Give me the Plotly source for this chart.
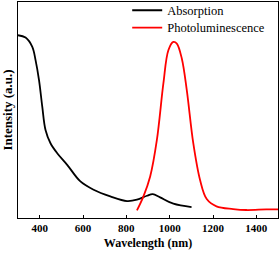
import plotly.graph_objects as go

abs_x = [300, 335, 366, 381, 397, 412, 427, 450, 481, 527, 588, 649, 726, 803, 849, 895, 922, 956, 1017, 1101]
abs_y = [550, 543, 515, 475, 415, 335, 265, 225, 195, 160, 110, 85, 65, 51, 55, 67, 72, 62, 43, 33]

pl_x = [849, 879, 910, 941, 971, 994, 1017, 1033, 1056, 1079, 1109, 1140, 1171, 1216, 1293, 1354, 1446, 1500]
pl_y = [23, 65, 125, 235, 405, 505, 530, 525, 480, 385, 225, 115, 57, 35, 27, 24, 26, 26]

tick_vals = [400, 600, 800, 1000, 1200, 1400]

fig = go.Figure()
fig.add_trace(go.Scatter(x=abs_x, y=abs_y, mode="lines", name="Absorption", legend="legend",
                         line=dict(color="black", width=1.8, shape="spline")))
fig.add_trace(go.Scatter(x=pl_x, y=pl_y, mode="lines", name="Photoluminescence", legend="legend2",
                         line=dict(color="red", width=1.8, shape="spline")))

font_serif = "Liberation Serif, Times New Roman, serif"
leg_common = dict(x=0.42, xanchor="left", yanchor="middle", bgcolor="rgba(0,0,0,0)",
                  font=dict(size=12.5, family=font_serif), itemwidth=30)
fig.update_layout(
    width=280, height=254,
    margin=dict(l=18, r=2, t=2, b=36, autoexpand=False),
    paper_bgcolor="white", plot_bgcolor="white",
    font=dict(family=font_serif, color="black"),
    showlegend=True,
    legend=dict(y=0.96, **leg_common),
    legend2=dict(y=0.88, **leg_common),
    xaxis=dict(range=[300, 1500], tickvals=tick_vals, ticks="inside", ticklen=3,
               tickcolor="black", showgrid=False, zeroline=False,
               showline=True, linecolor="black", linewidth=1, mirror=True,
               tickfont=dict(size=11, family=font_serif, weight="bold"),
               title=dict(text="<b>Wavelength (nm)</b>", font=dict(size=12, family=font_serif), standoff=5)),
    yaxis=dict(range=[0, 650], showticklabels=False, ticks="", showgrid=False, zeroline=False,
               showline=True, linecolor="black", linewidth=1, mirror=True,
               title=dict(text="<b>Intensity (a.u.)</b>", font=dict(size=13, family=font_serif), standoff=3)),
)
fig.write_html("out.html", config={"displayModeBar": False},
               post_script="document.body.style.margin='0';document.body.style.overflow='hidden';")
